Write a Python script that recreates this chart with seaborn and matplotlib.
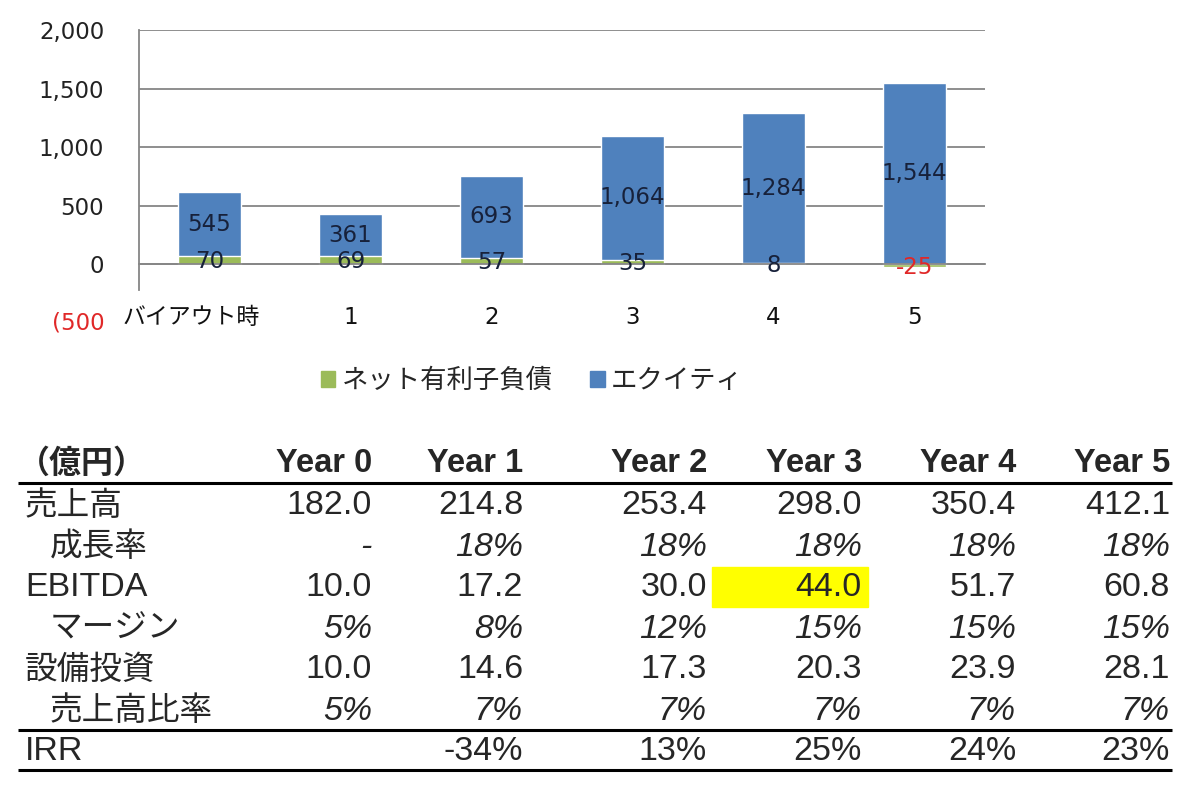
import matplotlib
matplotlib.use('Agg')
import matplotlib.pyplot as plt
import seaborn as sns
import numpy as np
from matplotlib.patches import Patch, Rectangle

# chart data
categories = ['バイアウト時', '1', '2', '3', '4', '5']
net_debt = [70, 69, 57, 35, 8, -25]
equity = [545, 361, 693, 1064, 1284, 1544]
y_ticks = [0, 500, 1000, 1500, 2000]

# table data
years = ['Year 0', 'Year 1', 'Year 2', 'Year 3', 'Year 4', 'Year 5']
sales = [182.0, 214.8, 253.4, 298.0, 350.4, 412.1]
growth = [None, 18, 18, 18, 18, 18]
ebitda = [10.0, 17.2, 30.0, 44.0, 51.7, 60.8]
margin = [5, 8, 12, 15, 15, 15]
capex = [10.0, 14.6, 17.3, 20.3, 23.9, 28.1]
capex_ratio = [5, 7, 7, 7, 7, 7]
irr = [None, -34, 13, 25, 24, 23]

GREEN = '#9BBB59'
BLUE = '#4F81BD'
GRID = '#868686'
LABEL = '#17213A'
RED = '#E02828'
JP = 'Noto Sans CJK JP'
NUM = 'Liberation Sans'

sns.set_style('white')
plt.rcParams['font.family'] = ['DejaVu Sans', JP]

fig = plt.figure(figsize=(12, 7.86), dpi=100)

# ---- stacked bar chart ----
ax = fig.add_axes([139 / 1200, 1 - 290 / 786, 846 / 1200, 260 / 786])
bottoms = np.maximum(net_debt, 0)
tops = bottoms + np.array(equity)
sns.barplot(x=categories, y=tops, order=categories, color=BLUE,
            saturation=1, width=0.45, ax=ax, zorder=2)
sns.barplot(x=categories, y=net_debt, order=categories, color=GREEN,
            saturation=1, width=0.45, ax=ax, zorder=3)

ax.set_xlim(-0.5, len(categories) - 0.5)
ax.set_ylim(-220, 2000)
ax.set_axisbelow(True)
ax.yaxis.grid(True, color=GRID, lw=1.3)
ax.set_yticks(y_ticks)
ax.set_yticklabels([f'{v:,}' for v in y_ticks])
ax.tick_params(axis='y', length=6, color=GRID, width=1.3, pad=19,
               labelsize=16.5, labelcolor='#222222')

# category labels drawn by hand (first one sits a bit left of its bar)
ax.set_xticks(range(len(categories)))
ax.set_xticklabels([])
ax.set_xticks(np.arange(-0.5, len(categories)), minor=True)
ax.tick_params(axis='x', which='major', length=0)
ax.tick_params(axis='x', which='minor', length=7, width=1.3, color=GRID,
               direction='out')
for i, cat in enumerate(categories):
    ax.annotate(cat, xy=(i, 0), xycoords=('data', 'axes fraction'),
                xytext=(-18 if i == 0 else 0, -28), textcoords='offset pixels',
                ha='center', va='center', fontsize=16.5, color='#111111',
                annotation_clip=False)
ax.set_xlabel('')
ax.set_ylabel('')

for s in ['top', 'right']:
    ax.spines[s].set_visible(False)
ax.spines['left'].set_color(GRID)
ax.spines['left'].set_linewidth(1.3)
ax.spines['bottom'].set_position(('data', 0))
ax.spines['bottom'].set_color(GRID)
ax.spines['bottom'].set_linewidth(1.3)
ax.spines['bottom'].set_zorder(4)

for i in range(len(categories)):
    ax.text(i, bottoms[i] + equity[i] / 2, f'{equity[i]:,}', ha='center',
            va='center', fontsize=16.5, color=LABEL, zorder=5)
    ax.text(i, net_debt[i] / 2 - 15, f'{net_debt[i]:,}', ha='center',
            va='center', fontsize=16.5,
            color=RED if net_debt[i] < 0 else LABEL, zorder=5)

# clipped negative axis label
ax.annotate('(500', xy=(0, -500), xycoords=('axes fraction', 'data'),
            xytext=(-34, 0), textcoords='offset pixels', ha='right',
            va='center', fontsize=16.5, color=RED, annotation_clip=False)

fig.legend(handles=[Patch(color=GREEN, label='ネット有利子負債'),
                    Patch(color=BLUE, label='エクイティ')],
           loc='center', bbox_to_anchor=(532 / 1200, 1 - 381 / 786),
           ncol=2, frameon=False, fontsize=19, handlelength=0.55,
           handleheight=0.55, handletextpad=0.25, columnspacing=1.4)

# ---- table ----
axt = fig.add_axes([0, 0, 1, 1], zorder=-1)
axt.set_xlim(0, 1200)
axt.set_ylim(786, 0)
axt.axis('off')
axt.patch.set_alpha(0)

col_right = [372, 523, 707, 862, 1016, 1170]
header_y = 464
row_y0, row_h = 506, 41

axt.text(18, header_y, '（億円）', family=JP, fontweight='bold',
         fontsize=23, va='center', ha='left')
for x, y in zip(col_right, years):
    axt.text(x, header_y, y, family=[NUM, JP], fontweight='bold',
             fontsize=23.5, va='center', ha='right')

rows = [
    ('売上高', sales, 'num', False),
    ('成長率', growth, 'pct', True),
    ('EBITDA', ebitda, 'num', False),
    ('マージン', margin, 'pct', True),
    ('設備投資', capex, 'num', False),
    ('売上高比率', capex_ratio, 'pct', True),
    ('IRR', irr, 'irr', False),
]

for r, (label, values, kind, italic) in enumerate(rows):
    y = row_y0 + r * row_h
    if label.isascii():
        axt.text(25, y, label, family=[NUM, JP], fontsize=24.5, va='center',
                 ha='left')
    else:
        axt.text(50 if italic else 25, y, label, family=JP, fontsize=23.5,
                 va='center', ha='left')
    for c, v in enumerate(values):
        if v is None:
            txt = '-' if kind == 'pct' else ''
        elif kind == 'num':
            txt = f'{v:.1f}'
        else:
            txt = f'{v}%'
        axt.text(col_right[c], y, txt, family=[NUM, JP], fontsize=24.5,
                 style='italic' if italic else 'normal', va='center',
                 ha='right', zorder=3)

# highlighted EBITDA Year 3 cell
hr, hc = 2, 3
hy = row_y0 + hr * row_h
axt.add_patch(Rectangle((col_right[hc - 1] + 5, hy - 21),
                        col_right[hc] - col_right[hc - 1] + 1, 40,
                        color='#FFFF00', zorder=1))

axt.hlines([483, 730, 770], 18, 1172, color='black', lw=2.2)

fig.savefig('out.png', dpi=100)
